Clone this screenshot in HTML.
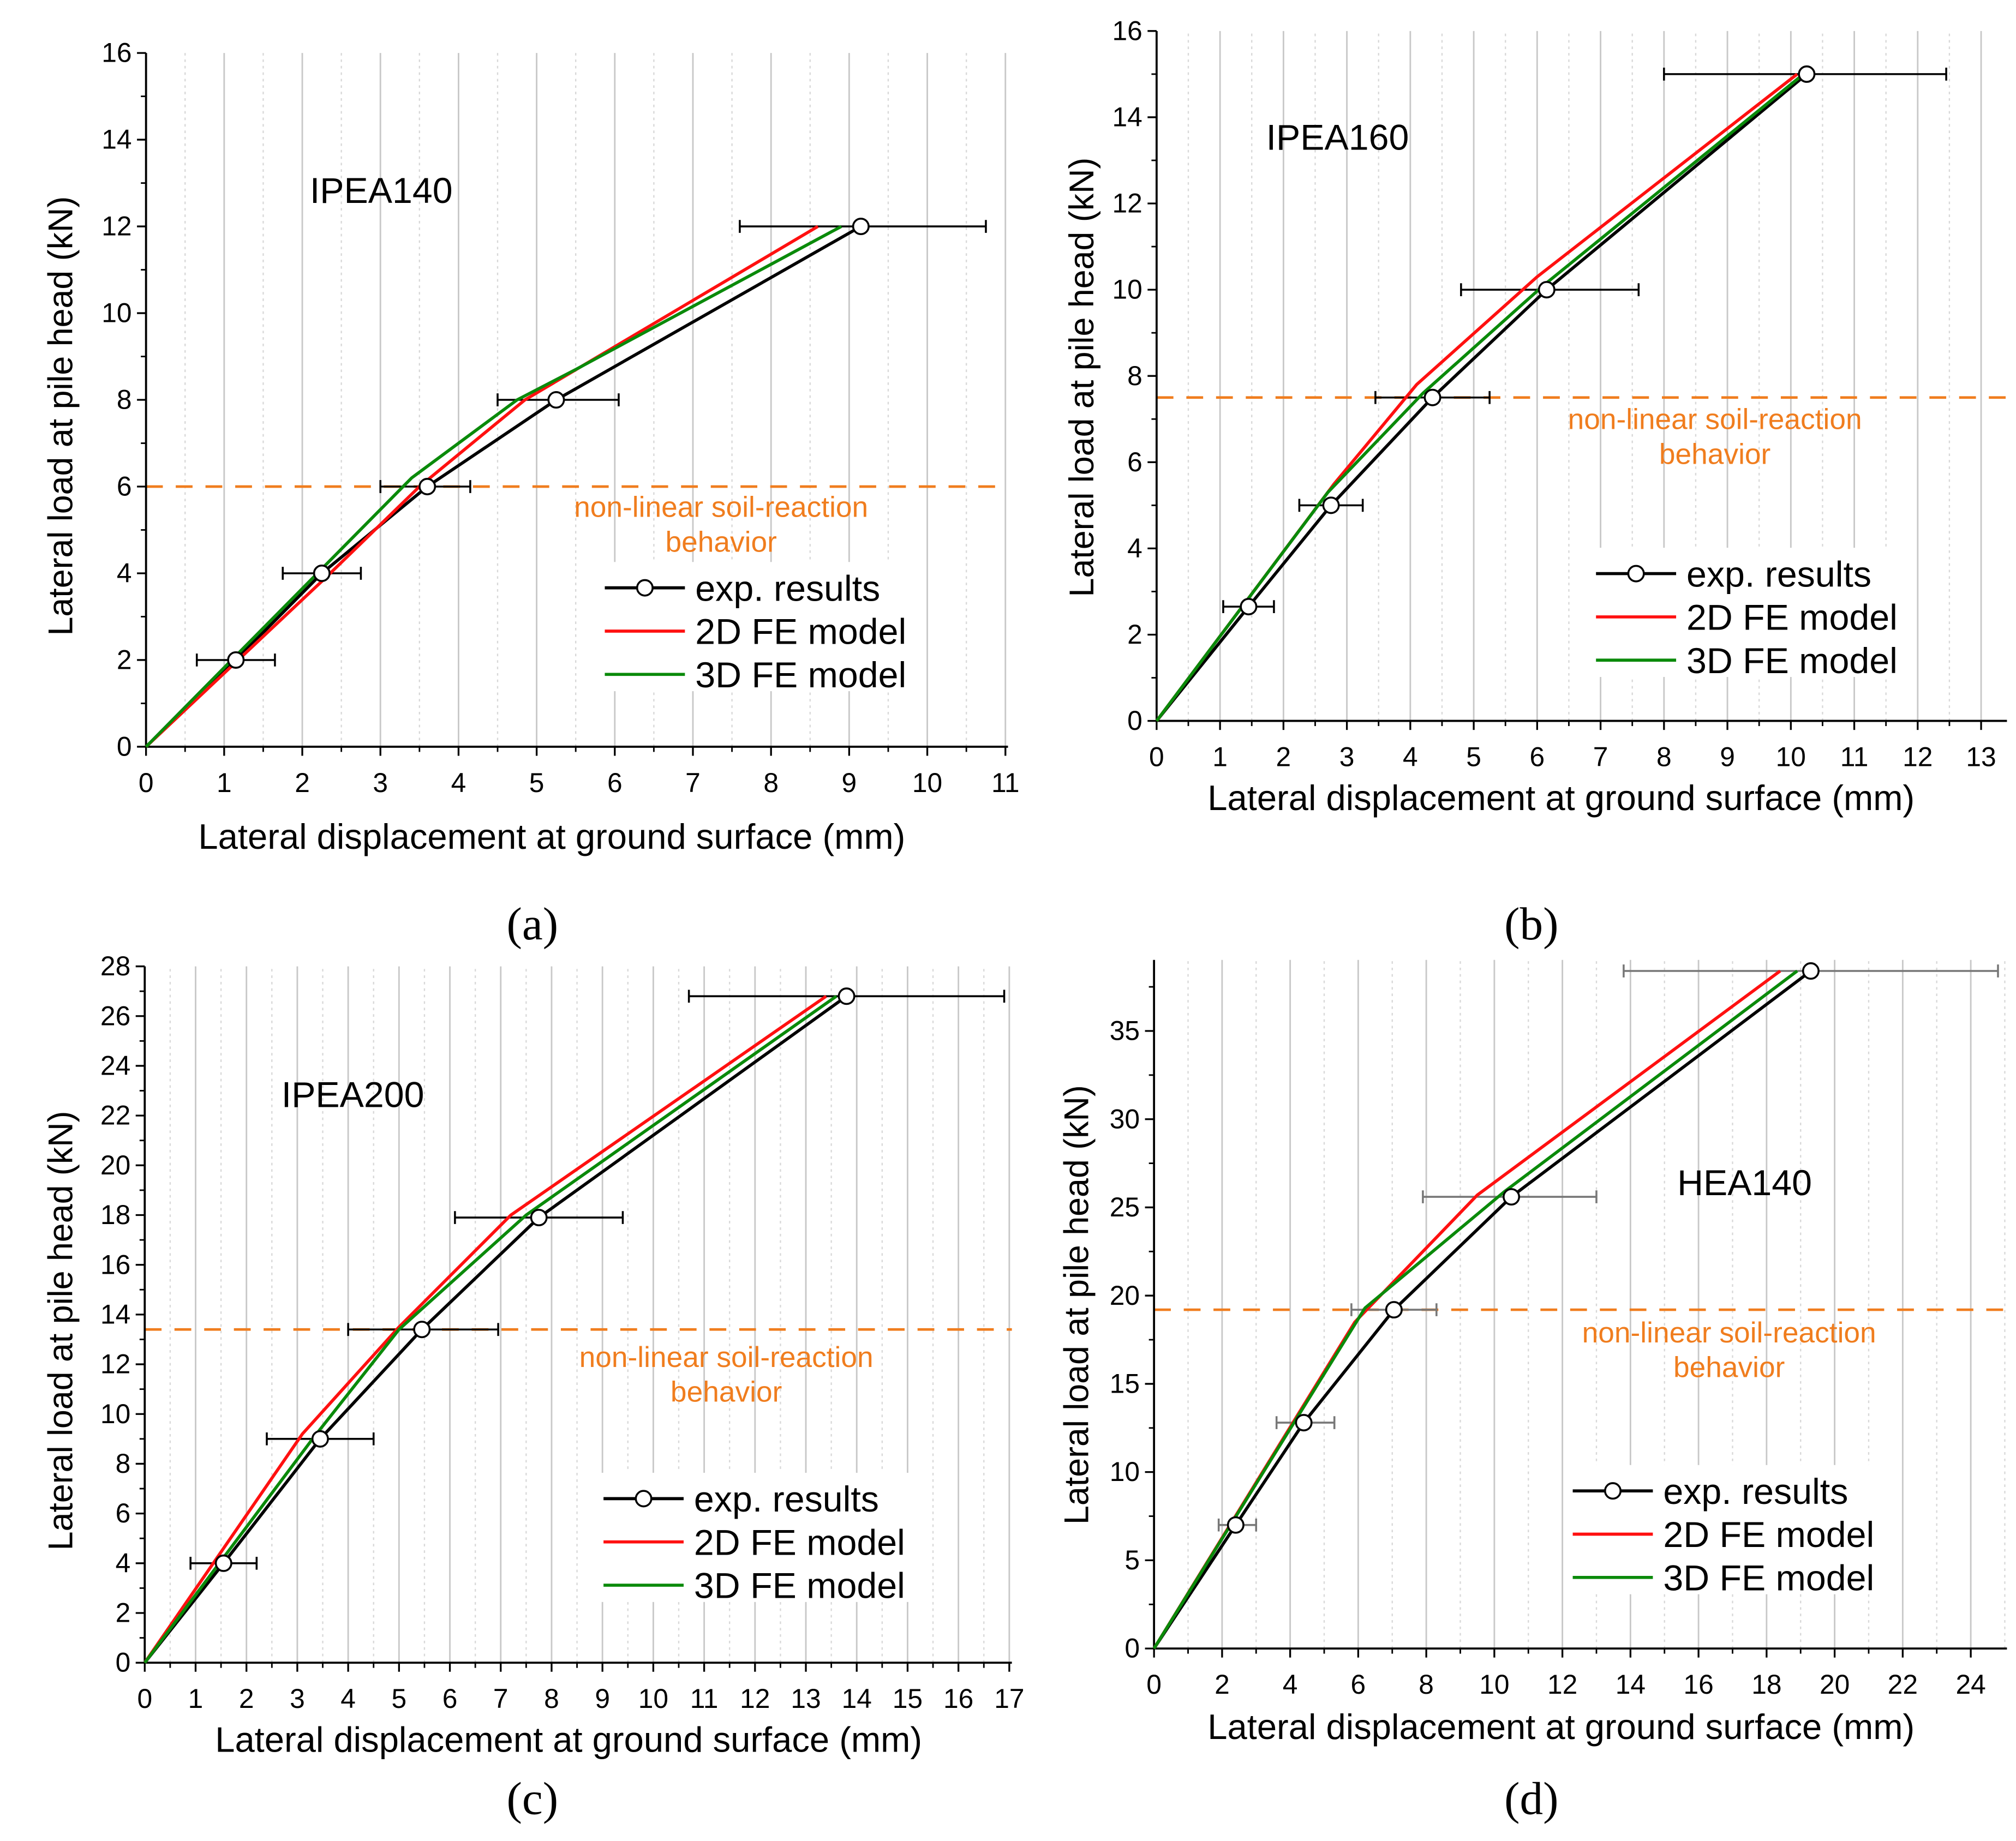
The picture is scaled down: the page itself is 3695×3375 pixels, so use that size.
<!DOCTYPE html>
<html><head><meta charset="utf-8"><style>
html,body{margin:0;padding:0;background:#fff;}
svg{display:block;}
text{font-family:"Liberation Sans",Arial,sans-serif;}
</style></head><body>
<svg id="fig" width="3695" height="3375" viewBox="0 0 1560 1425" preserveAspectRatio="none" xmlns="http://www.w3.org/2000/svg"></svg>
<script>
// ---- Panel (a) data ----
const aExpX=[0,1.15,2.25,3.6,5.25,9.15];
const aExpY=[0,2,4,6,8,12];
const aErrLo=[null,0.65,1.75,3.0,4.5,7.6];
const aErrHi=[null,1.65,2.75,4.15,6.05,10.75];
const a2dX=[0,2.3,3.5,4.85,8.6];
const a2dY=[0,3.9,6,8,12];
const a3dX=[0,3.4,4.75,5.5,8.9];
const a3dY=[0,6.2,8,8.7,12];
const aXTicks=[0,1,2,3,4,5,6,7,8,9,10,11];
const aYTicks=[0,2,4,6,8,10,12,14,16];
const aThreshold=6;
// ---- Panel (b) data ----
const bExpX=[0,1.45,2.75,4.35,6.15,10.25];
const bExpY=[0,2.65,5,7.5,10,15];
const bErrLo=[null,1.05,2.25,3.45,4.8,8.0];
const bErrHi=[null,1.85,3.25,5.25,7.6,12.45];
const b2dX=[0,2.8,4.1,6.0,10.1];
const b2dY=[0,5.5,7.8,10.3,15];
const b3dX=[0,2.7,4.2,6.1,10.2];
const b3dY=[0,5.3,7.6,10.1,15];
const bXTicks=[0,1,2,3,4,5,6,7,8,9,10,11,12,13];
const bYTicks=[0,2,4,6,8,10,12,14,16];
const bThreshold=7.5;
// ---- Panel (c) data ----
const cExpX=[0,1.55,3.45,5.45,7.75,13.8];
const cExpY=[0,4,9,13.4,17.9,26.8];
const cErrLo=[null,0.9,2.4,4.0,6.1,10.7];
const cErrHi=[null,2.2,4.5,6.95,9.4,16.9];
const c2dX=[0,3.1,5.0,7.2,13.4];
const c2dY=[0,9.2,13.5,18,26.8];
const c3dX=[0,3.3,5.0,7.5,13.6];
const c3dY=[0,9,13.4,18,26.8];
const cXTicks=[0,1,2,3,4,5,6,7,8,9,10,11,12,13,14,15,16,17];
const cYTicks=[0,2,4,6,8,10,12,14,16,18,20,22,24,26,28];
const cThreshold=13.4;
// ---- Panel (d) data ----
const dExpX=[0,2.4,4.4,7.05,10.5,19.3];
const dExpY=[0,7,12.8,19.2,25.6,38.4];
const dErrLo=[null,1.9,3.6,5.8,7.9,13.8];
const dErrHi=[null,3.0,5.3,8.3,13.0,24.8];
const d2dX=[0,5.9,6.3,9.5,18.4];
const d2dY=[0,18.5,19.3,25.7,38.4];
const d3dX=[0,6.2,10.3,18.9];
const d3dY=[0,19.3,25.9,38.4];
const dXTicks=[0,2,4,6,8,10,12,14,16,18,20,22,24];
const dYTicks=[0,5,10,15,20,25,30,35];
const dThreshold=19.2;

const NS="http://www.w3.org/2000/svg";
const svg=document.getElementById('fig');
function mk(tag,attrs,parent){const e=document.createElementNS(NS,tag);for(const k in attrs)e.setAttribute(k,attrs[k]);(parent||svg).appendChild(e);return e;}

function panel(cfg){
  const g=mk('g',{});
  
  
  const sx=v=>cfg.x0+(v-cfg.xmin)*(cfg.x1-cfg.x0)/(cfg.xmaxTick-cfg.xmin);
  const sy=v=>cfg.y0-(v-cfg.ymin)*(cfg.y0-cfg.y1)/(cfg.ymaxTick-cfg.ymin);
  const right=cfg.right, top=cfg.top;
  const gg=mk('g',{},g);
  
  
  const step=cfg.xTicks[1]-cfg.xTicks[0];
  for(let v=cfg.xmin+step/2; sx(v)<right+0.5; v+=step/2){
    const isMaj=Math.abs((v-cfg.xmin)/step-Math.round((v-cfg.xmin)/step))<1e-6;
    const l=mk('line',{x1:sx(v),x2:sx(v),y1:cfg.y0,y2:top,stroke:isMaj?'#c8c8c8':'#d8d8d8','stroke-width':isMaj?1.2:1,'stroke-dasharray':isMaj?'':'2,3'},gg);
    
    
  }
  const th=mk('line',{x1:cfg.x0,x2:right,y1:sy(cfg.th),y2:sy(cfg.th),stroke:'#f07d1e','stroke-width':2,'stroke-dasharray':'13,10'},g);
  
  
  const t1=mk('text',{x:cfg.ntx,y:cfg.nty,'font-size':22.5,fill:'#f07d1e','text-anchor':'middle'},g);t1.textContent='non-linear soil-reaction';
  
  
  const t2=mk('text',{x:cfg.ntx,y:cfg.nty+27,'font-size':22.5,fill:'#f07d1e','text-anchor':'middle'},g);t2.textContent='behavior';
  
  
  mk('rect',{x:cfg.lx-6,y:cfg.ly-20,width:250,height:100,fill:'#fff'},g);
  const ax=mk('path',{d:`M${cfg.x0},${top}V${cfg.y0}H${right}`,stroke:'#000','stroke-width':1.6,fill:'none'},g);
  
  
  cfg.xTicks.forEach((v,i)=>{
    mk('line',{x1:sx(v),x2:sx(v),y1:cfg.y0,y2:cfg.y0+7,stroke:'#000','stroke-width':1.4},g);
    if(i<cfg.xTicks.length-1) mk('line',{x1:sx(v+step/2),x2:sx(v+step/2),y1:cfg.y0,y2:cfg.y0+4,stroke:'#000','stroke-width':1.2},g);
    const t=mk('text',{x:sx(v),y:cfg.y0+35,'font-size':21,'text-anchor':'middle'},g);t.textContent=v;
    
    
  });
  const ys=cfg.yTicks[1]-cfg.yTicks[0];
  cfg.yTicks.forEach((v)=>{
    mk('line',{x1:cfg.x0-7,x2:cfg.x0,y1:sy(v),y2:sy(v),stroke:'#000','stroke-width':1.4},g);
    if(sy(v+ys/2)>=top) mk('line',{x1:cfg.x0-4,x2:cfg.x0,y1:sy(v+ys/2),y2:sy(v+ys/2),stroke:'#000','stroke-width':1.2},g);
    const t=mk('text',{x:cfg.x0-11,y:sy(v)+7,'font-size':21,'text-anchor':'end'},g);t.textContent=v;
    
    
  });
  const xt=mk('text',{x:cfg.xtx,y:cfg.xty,'font-size':27.5,'text-anchor':'middle'},g);xt.textContent='Lateral displacement at ground surface (mm)';
  
  
  const yt=mk('text',{x:0,y:0,'font-size':26.5,'text-anchor':'middle',transform:`translate(${cfg.ytx},${cfg.yty}) rotate(-90)`},g);yt.textContent='Lateral load at pile head (kN)';
  
  
  const nm=mk('text',{x:cfg.nx,y:cfg.ny,'font-size':28,'text-anchor':'middle'},g);nm.textContent=cfg.name;
  
  
  const pl=mk('text',{x:cfg.px,y:cfg.py,'font-size':36,'text-anchor':'middle',style:'font-family:"Liberation Serif",serif'},g);pl.textContent=cfg.plabel;
  
  
  const pts=(X,Y)=>X.map((x,i)=>sx(x)+','+sy(Y[i])).join(' ');
  const errCol=cfg.errCol;
  cfg.eLo.forEach((lo,i)=>{if(lo===null)return;
    const y=sy(cfg.eY[i]);
    const e=mk('path',{d:`M${sx(lo)},${y}H${sx(cfg.eHi[i])}M${sx(lo)},${y-5}V${y+5}M${sx(cfg.eHi[i])},${y-5}V${y+5}`,stroke:errCol,'stroke-width':1.5,fill:'none'},g);
    
    
  });
  const sb=mk('polyline',{points:pts(cfg.eX,cfg.eY),fill:'none',stroke:'#000','stroke-width':2.4},g);
  
  
  const sr=mk('polyline',{points:pts(cfg.rX,cfg.rY),fill:'none',stroke:'#ff1010','stroke-width':2.4},g);
  
  
  const sg=mk('polyline',{points:pts(cfg.gX,cfg.gY),fill:'none',stroke:'#0a8a0a','stroke-width':2.4},g);
  
  
  cfg.eX.forEach((x,i)=>{
    if(i===0)return;
    const c=mk('circle',{cx:sx(x),cy:sy(cfg.eY[i]),r:6,fill:'#fff',stroke:'#000','stroke-width':1.5},g);
    
    
  });
  const lg=mk('g',{},g);
  
  
  const items=[['exp. results','#000',true],['2D FE model','#ff1010',false],['3D FE model','#0a8a0a',false]];
  items.forEach((it,i)=>{
    const y=cfg.ly+i*33.5;
    mk('line',{x1:cfg.lx,x2:cfg.lx+62,y1:y,y2:y,stroke:it[1],'stroke-width':2.4},lg);
    if(it[2]) mk('circle',{cx:cfg.lx+31,cy:y,r:6,fill:'#fff',stroke:'#000','stroke-width':1.5},lg);
    const t=mk('text',{x:cfg.lx+70,y:y+10,'font-size':28},lg);t.textContent=it[0];
    
    
  });
}

panel({id:'a',x0:113,x1:778,xmin:0,xmaxTick:11,right:780,y0:578,y1:41,ymin:0,ymaxTick:16,top:41,
  xTicks:aXTicks,yTicks:aYTicks,th:aThreshold,eX:aExpX,eY:aExpY,eLo:aErrLo,eHi:aErrHi,rX:a2dX,rY:a2dY,gX:a3dX,gY:a3dY,
  errCol:'#000',ntx:558,nty:400,lx:468,ly:455,xtx:427,xty:657,ytx:56,yty:322,nx:295,ny:157,name:'IPEA140',px:412,py:727,plabel:'(a)'});
panel({id:'b',x0:895,x1:1533,xmin:0,xmaxTick:13,right:1553,y0:558,y1:24,ymin:0,ymaxTick:16,top:24,
  xTicks:bXTicks,yTicks:bYTicks,th:bThreshold,eX:bExpX,eY:bExpY,eLo:bErrLo,eHi:bErrHi,rX:b2dX,rY:b2dY,gX:b3dX,gY:b3dY,
  errCol:'#000',ntx:1327,nty:332,lx:1235,ly:444,xtx:1208,xty:627,ytx:846,yty:292,nx:1035,ny:116,name:'IPEA160',px:1185,py:727,plabel:'(b)'});
panel({id:'c',x0:112,x1:781,xmin:0,xmaxTick:17,right:783,y0:1287,y1:748,ymin:0,ymaxTick:28,top:748,
  xTicks:cXTicks,yTicks:cYTicks,th:cThreshold,eX:cExpX,eY:cExpY,eLo:cErrLo,eHi:cErrHi,rX:c2dX,rY:c2dY,gX:c3dX,gY:c3dY,
  errCol:'#000',ntx:562,nty:1058,lx:467,ly:1160,xtx:440,xty:1356,ytx:56,yty:1030,nx:273,ny:857,name:'IPEA200',px:412,py:1404,plabel:'(c)'});
panel({id:'d',x0:893,x1:1525,xmin:0,xmaxTick:24,right:1553,y0:1276,y1:798,ymin:0,ymaxTick:35,top:743,
  xTicks:dXTicks,yTicks:dYTicks,th:dThreshold,eX:dExpX,eY:dExpY,eLo:dErrLo,eHi:dErrHi,rX:d2dX,rY:d2dY,gX:d3dX,gY:d3dY,
  errCol:'#777',ntx:1338,nty:1039,lx:1217,ly:1154,xtx:1208,xty:1346,ytx:842,yty:1010,nx:1350,ny:925,name:'HEA140',px:1185,py:1404,plabel:'(d)'});
</script>
</body></html>
